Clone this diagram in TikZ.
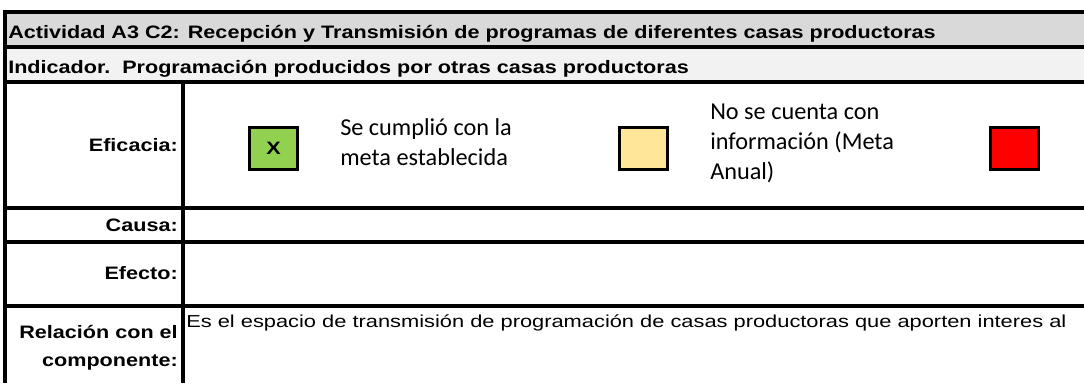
\documentclass[tikz,border=0pt]{standalone}
\usepackage{fontspec}
\setmainfont{Liberation Sans}
\newfontfamily\calibri{Carlito}
\newfontfamily\arialbold[FakeStretch=1.2]{Liberation Sans Bold}
\newfontfamily\arialwide[FakeStretch=1.26]{Liberation Sans}
\usetikzlibrary{positioning}

\definecolor{hdrgray}{HTML}{D9D9D9}
\definecolor{subgray}{HTML}{F2F2F2}
\definecolor{okgreen}{HTML}{92D050}
\definecolor{nodata}{HTML}{FFE699}

\tikzset{
  rule/.style={line width=2.4pt},
  hdr/.style={anchor=base west, inner sep=0pt, font=\arialbold\fontsize{13.5}{16}\selectfont},
  lbl/.style={anchor=base east, inner sep=0pt, font=\arialbold\fontsize{13.5}{16}\selectfont},
  body/.style={anchor=base west, inner sep=0pt, font=\arialwide\fontsize{13}{16}\selectfont},
  legendbox/.style={draw, line width=2.4pt, minimum width=36pt, minimum height=31.5pt, inner sep=0pt},
  legendtxt/.style={anchor=base west, inner sep=0pt, font=\calibri\fontsize{18.2}{22}\selectfont},
}

\begin{document}
\begin{tikzpicture}[x=0.75pt,y=-0.75pt]
\useasboundingbox (0,0) rectangle (1084,383);
% shaded title rows
\fill[hdrgray] (5,12) rectangle (1084,47);
\fill[subgray] (5,47) rectangle (1084,82);
% table rules
\draw[rule] (1084,12) -- (5,12) -- (5,383);
\draw[rule] (5,47) -- (1084,47);
\draw[rule] (5,82) -- (1084,82);
\draw[rule] (183,82) -- (183,383);
\foreach \y in {208,242,306}
  \draw[rule] (5,\y) -- (1084,\y);

\node[hdr] (act) at (8,38) {Actividad A3 C2: Recepción y Transmisión de programas de diferentes casas productoras};
\node[hdr] (ind) at (8,73) {Indicador.\ \ Programación producidos por otras casas productoras};

\node[lbl] (efi) at (178,151) {Eficacia:};
\node[lbl] (cau) at (178,231) {Causa:};
\node[lbl] (efe) at (178,279) {Efecto:};
\node[lbl] (rel1) at (178,338) {Relación con el};
\node[lbl] (rel2) at (178,366) {componente:};

% semaforo
\node[legendbox, fill=okgreen] (green) at (273.5,148.5) {\arialbold\fontsize{13.5}{16}\selectfont X};
\node[legendbox, fill=nodata] (yellow) at (643.5,148.5) {};
\node[legendbox, fill=red] (redbox) at (1014.5,148.5) {};

\node[legendtxt] (ok1) at (340,135) {Se cumplió con la};
\node[legendtxt] (ok2) at (340,165) {meta establecida};
\node[legendtxt] (nd1) at (710,119) {No se cuenta con};
\node[legendtxt] (nd2) at (710,149) {información (Meta};
\node[legendtxt] (nd3) at (710,179) {Anual)};

\node[body] (comp) at (186,327) {Es el espacio de transmisión de programación de casas productoras que aporten interes al};
\end{tikzpicture}
\end{document}
